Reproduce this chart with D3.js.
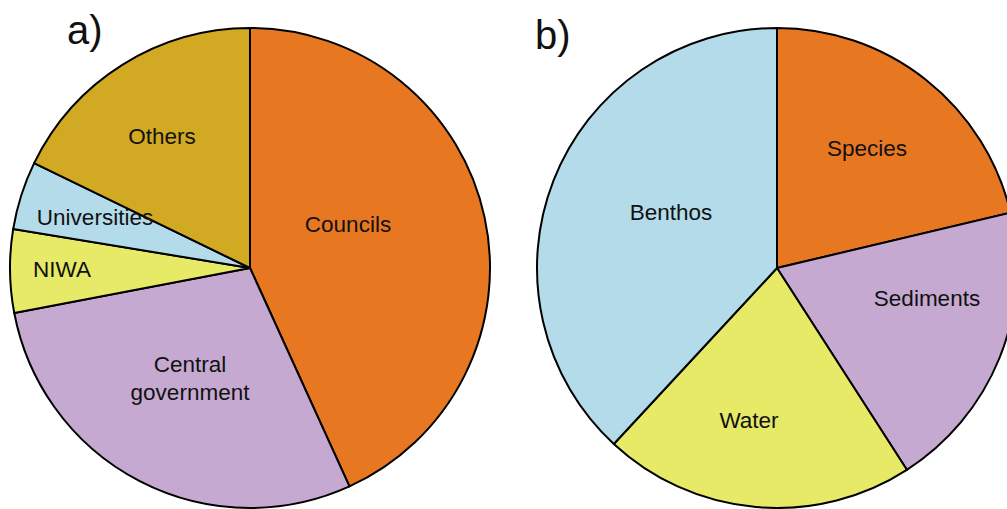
<!DOCTYPE html>
<html>
<head>
<meta charset="utf-8">
<script src="https://cdn.jsdelivr.net/npm/d3@7"></script>
<style>
  body { margin: 0; background: #fff; }
  svg { display: block; font-family: "Liberation Sans", Arial, sans-serif; }
</style>
</head>
<body>
<div id="chart"></div>
<script>
// Panel a) - funding source shares (percent, clockwise from 12 o'clock)
const sourceNames = ['Councils', 'Central government', 'NIWA', 'Universities', 'Others'];
const sourceValues = [43.2, 28.8, 5.6, 4.6, 17.8];
const sourceColors = ['#e87722', '#c6a9d1', '#e6ea66', '#b4dbe9', '#d1a922'];

// Panel b) - topic shares
const topicNames = ['Species', 'Sediments', 'Water', 'Benthos'];
const topicValues = [21.3, 19.6, 21.0, 38.1];
const topicColors = ['#e87722', '#c6a9d1', '#e6ea66', '#b4dbe9'];

const width = 1007, height = 509;
const svg = d3.select('#chart').append('svg')
  .attr('width', width)
  .attr('height', height);

// label offsets from pie centre (where the text sits in the original)
const labelPos = {
  'Councils': [98, -44],
  'Central government': [-60, 110],
  'NIWA': [-188, 1],
  'Universities': [-155, -51],
  'Others': [-88, -132],
  'Species': [90, -120],
  'Sediments': [150, 30],
  'Water': [-28, 152],
  'Benthos': [-106, -56]
};

function drawPie(cx, cy, r, names, values, colors, tag, tagX, tagY) {
  const data = names.map((n, i) => ({ name: n, value: values[i], color: colors[i] }));
  const pie = d3.pie().sort(null).value(d => d.value);
  const arc = d3.arc().innerRadius(0).outerRadius(r);
  const g = svg.append('g').attr('transform', `translate(${cx},${cy})`);

  g.selectAll('path')
    .data(pie(data))
    .enter()
    .append('path')
    .attr('d', arc)
    .attr('fill', d => d.data.color)
    .attr('stroke', '#000')
    .attr('stroke-width', 2)
    .attr('stroke-linejoin', 'round');

  g.selectAll('text.lbl')
    .data(data)
    .enter()
    .each(function (d) {
      const p = labelPos[d.name];
      const lines = d.name === 'Central government' ? ['Central', 'government'] : [d.name];
      const t = d3.select(this).append('text')
        .attr('class', 'lbl')
        .attr('text-anchor', 'middle')
        .attr('font-size', 22.5)
        .attr('fill', '#111');
      lines.forEach((ln, i) => {
        t.append('tspan')
          .attr('x', p[0])
          .attr('y', p[1] + 8 + (i - (lines.length - 1) / 2) * 28)
          .text(ln);
      });
    });

  svg.append('text')
    .attr('x', tagX)
    .attr('y', tagY)
    .attr('font-size', 40)
    .attr('fill', '#111')
    .text(tag);
}

drawPie(250, 268, 240, sourceNames, sourceValues, sourceColors, 'a)', 67, 44);
drawPie(777, 268, 240, topicNames, topicValues, topicColors, 'b)', 535, 49);
</script>
</body>
</html>
